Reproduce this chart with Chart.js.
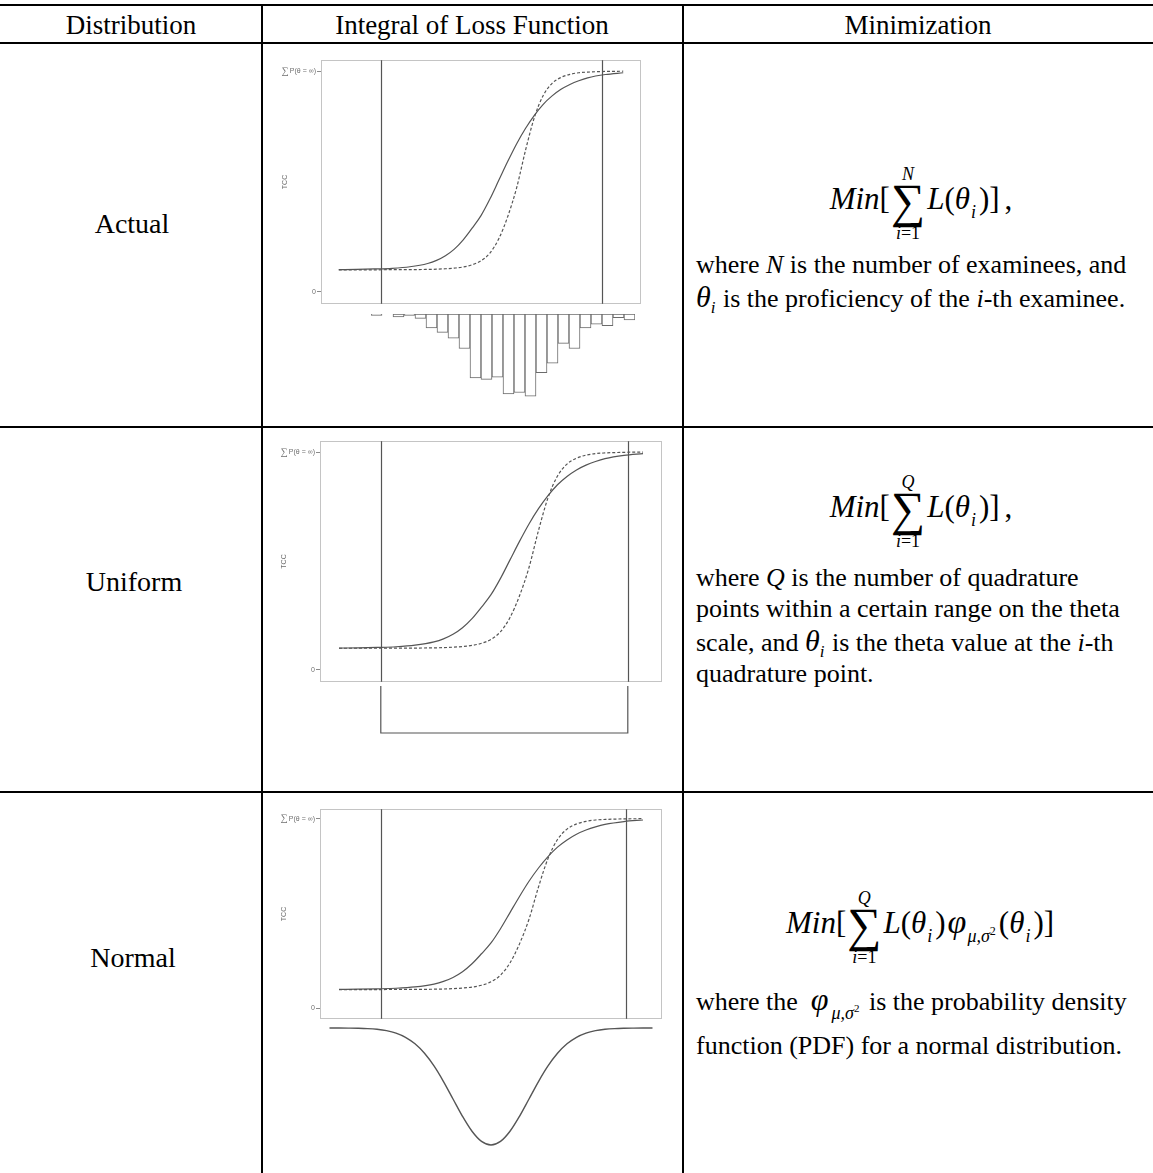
<!DOCTYPE html>
<html>
<head>
<meta charset="utf-8">
<script src="https://cdn.jsdelivr.net/npm/chart.js@4.4.1/dist/chart.umd.min.js"></script>
<style>
  html, body { margin: 0; padding: 0; background: #fff; }
  #page { position: relative; width: 1153px; height: 1173px; overflow: hidden;
          font-family: 'Liberation Serif', 'Times New Roman', serif; color: #000; }
  .hl { position: absolute; left: 0; width: 1153px; height: 2px; background: #000; }
  .vl { position: absolute; top: 4px; width: 2px; height: 1169px; background: #000; }
  .ctr { position: absolute; white-space: nowrap; line-height: 1; transform: translate(-50%, -50%); }
  .txt { position: absolute; left: 696px; white-space: nowrap; line-height: 1; font-size: 26px; transform: translateY(-50%); }
  .i { font-style: italic; }
  .th { font-style: italic; font-size: 30px; }
  .sb { font-style: italic; font-size: 17px; position: relative; top: 6px; margin-right: 1px; }
  .math { position: absolute; white-space: nowrap; line-height: 1; font-size: 31px; transform: translate(-50%, -50%); }
  .sum { position: relative; display: inline-block; font-size: 48px; line-height: 1; vertical-align: -0.16em; margin: 0 2px 0 1px; }
  .sum .up, .sum .lo { position: absolute; left: 50%; transform: translateX(-50%); font-size: 18px; line-height: 1; }
  .sum .up { top: -12px; font-style: italic; }
  .sum .lo { bottom: -17px; }
  .msub { font-style: italic; font-size: 18px; position: relative; top: 9px; margin: 0 3px 0 1px; }
  .phi { font-style: italic; font-size: 34px; margin-left: 2px; }
  canvas { position: absolute; }
</style>
</head>
<body>
<div id="page">
  <!-- table rules -->
  <div class="hl" style="top:4px"></div>
  <div class="hl" style="top:42px"></div>
  <div class="hl" style="top:426px"></div>
  <div class="hl" style="top:791px"></div>
  <div class="vl" style="left:261px"></div>
  <div class="vl" style="left:682px"></div>

  <!-- header -->
  <div class="ctr" style="left:131px;top:25px;font-size:27px">Distribution</div>
  <div class="ctr" style="left:472px;top:25px;font-size:27px">Integral of Loss Function</div>
  <div class="ctr" style="left:918px;top:25px;font-size:27px">Minimization</div>

  <!-- row labels -->
  <div class="ctr" style="left:132px;top:224px;font-size:28px">Actual</div>
  <div class="ctr" style="left:134px;top:582px;font-size:28px">Uniform</div>
  <div class="ctr" style="left:133px;top:958px;font-size:28px">Normal</div>

  <!-- row 1: actual distribution -->
  <div class="math" style="left:921px;top:201px">
    <span class="i">Min</span>[<span class="sum">∑<span class="up">N</span><span class="lo"><span class="i">i</span>=1</span></span><span class="i">L</span>(<span class="i">θ</span><span class="msub">i</span>)]<span style="margin-left:5px">,</span>
  </div>
  <div class="txt" style="top:265px">where <span class="i">N</span> is the number of examinees, and</div>
  <div class="txt" style="top:297px"><span class="th">θ</span><span class="sb">i</span> is the proficiency of the <span class="i">i</span>-th examinee.</div>

  <!-- row 2: uniform distribution -->
  <div class="math" style="left:921px;top:509px">
    <span class="i">Min</span>[<span class="sum">∑<span class="up">Q</span><span class="lo"><span class="i">i</span>=1</span></span><span class="i">L</span>(<span class="i">θ</span><span class="msub">i</span>)]<span style="margin-left:5px">,</span>
  </div>
  <div class="txt" style="top:578px">where <span class="i">Q</span> is the number of quadrature</div>
  <div class="txt" style="top:609px">points within a certain range on the theta</div>
  <div class="txt" style="top:641px">scale, and <span class="th">θ</span><span class="sb">i</span> is the theta value at the <span class="i">i</span>-th</div>
  <div class="txt" style="top:674px">quadrature point.</div>

  <!-- row 3: normal distribution -->
  <div class="math" style="left:920px;top:925px">
    <span class="i">Min</span>[<span class="sum">∑<span class="up">Q</span><span class="lo"><span class="i">i</span>=1</span></span><span class="i">L</span>(<span class="i">θ</span><span class="msub">i</span>)<span class="phi">φ</span><span class="msub">μ,σ<sup style="font-size:12px;font-style:normal">2</sup></span>(<span class="i">θ</span><span class="msub">i</span>)]
  </div>
  <div class="txt" style="top:999px">where the&nbsp; <span class="i" style="font-size:32px">φ</span><span class="msub" style="margin-left:3px">μ,σ<sup style="font-size:11px;font-style:normal">2</sup></span> is the probability density</div>
  <div class="txt" style="top:1046px">function (PDF) for a normal distribution.</div>

  <!-- charts -->
  <canvas id="tcc1" width="376" height="254" style="left:266px;top:55px"></canvas>
  <canvas id="hist1" width="266" height="92" style="left:370px;top:313px"></canvas>
  <canvas id="tcc2" width="398" height="251" style="left:265px;top:436px"></canvas>
  <canvas id="unif2" width="398" height="52" style="left:265px;top:685px"></canvas>
  <canvas id="tcc3" width="398" height="220" style="left:265px;top:804px"></canvas>
  <canvas id="norm3" width="398" height="128" style="left:265px;top:1023px"></canvas>
</div>

<script>
// Ability scale (theta) grid for the two test characteristic curves
const theta = [-4, -3.5, -3, -2.5, -2, -1.5, -1.25, -1, -0.75, -0.5, -0.25, 0, 0.25, 0.5, 0.75,
               1, 1.25, 1.5, 1.75, 2, 2.25, 2.5, 2.75, 3, 3.5, 4];
// TCC of the reference form (solid line), as a proportion of the maximum score
const tccSolid = [0.100, 0.101, 0.103, 0.106, 0.113, 0.128, 0.142, 0.163, 0.193, 0.235, 0.288, 0.345, 0.420, 0.505, 0.590,
                  0.670, 0.740, 0.800, 0.850, 0.888, 0.918, 0.940, 0.957, 0.970, 0.985, 0.993];
// TCC of the new form (dashed line)
const tccDashed = [0.099, 0.099, 0.099, 0.100, 0.100, 0.101, 0.102, 0.104, 0.107, 0.112, 0.122, 0.140, 0.175, 0.240, 0.340,
                   0.470, 0.640, 0.790, 0.890, 0.945, 0.972, 0.986, 0.993, 0.996, 0.999, 1.000];

// y-axis ticks of the TCC panels (the top one is the maximum expected score)
const tccTicks = [0, 1];
const tccTickLabels = ['0', 'P(θ = ∞)'];

// Theta range limits drawn as vertical lines in each panel
const actualRange = [-2.8, 3.4];
const uniformRange = [-2.9, 3.6];
const normalRange = [-2.9, 3.55];

// Observed examinee theta distribution (histogram)
const histBins = ['-3.0', '-2.7', '-2.4', '-2.1', '-1.8', '-1.5', '-1.2', '-0.9', '-0.6', '-0.3', '0.0', '0.3',
                  '0.6', '0.9', '1.2', '1.5', '1.8', '2.1', '2.4', '2.7', '3.0', '3.3', '3.6', '3.9'];
const histCounts = [2, 0, 4, 2, 6, 19, 25, 33, 47, 87, 89, 86, 109, 107, 112, 80, 67, 40, 47, 19, 14, 16, 5, 8];

// Uniform quadrature weight over the theta range
const uniformTheta = [uniformRange[0], uniformRange[0], uniformRange[1], uniformRange[1]];
const uniformDensity = [0, 1, 1, 0];

// Standard normal density
const normalTheta = [-4.25, -4, -3.75, -3.5, -3.25, -3, -2.75, -2.5, -2.25, -2, -1.75, -1.5, -1.25, -1, -0.75, -0.5, -0.25,
                     0, 0.25, 0.5, 0.75, 1, 1.25, 1.5, 1.75, 2, 2.25, 2.5, 2.75, 3, 3.25, 3.5, 3.75, 4, 4.25];
const normalDensity = [0.00005, 0.0001, 0.0004, 0.0009, 0.0020, 0.0044, 0.0091, 0.0175, 0.0317, 0.0540, 0.0863, 0.1295, 0.1826,
                       0.2420, 0.3011, 0.3521, 0.3867, 0.3989, 0.3867, 0.3521, 0.3011, 0.2420, 0.1826, 0.1295, 0.0863, 0.0540,
                       0.0317, 0.0175, 0.0091, 0.0044, 0.0020, 0.0009, 0.0004, 0.0001, 0.00005];

const LINE = '#555';
const AXIS_TEXT = '#6f6f6f';
const TICK_FONT = '7px "Liberation Sans", sans-serif';
const pts = (xs, ys) => xs.map((x, i) => ({ x, y: ys[i] }));

// Frame around the plot area, theta-range lines, the rotated TCC title and the summation sign
const framePlugin = {
  id: 'frame',
  beforeDatasetsDraw(chart, args, opts) {
    const { ctx, chartArea: a, scales } = chart;
    ctx.save();
    ctx.strokeStyle = '#c4c4c4';
    ctx.lineWidth = 1;
    ctx.strokeRect(Math.round(a.left) + 0.5, Math.round(a.top) + 0.5,
                   Math.round(a.right - a.left) - 1, Math.round(a.bottom - a.top) - 1);
    ctx.strokeStyle = LINE;
    ctx.lineWidth = 1.2;
    (opts.cuts || []).forEach(v => {
      const x = Math.round(scales.x.getPixelForValue(v)) + 0.5;
      ctx.beginPath();
      ctx.moveTo(x, a.top);
      ctx.lineTo(x, a.bottom);
      ctx.stroke();
    });
    ctx.restore();
  },
  afterDraw(chart, args, opts) {
    const { ctx, chartArea: a, scales } = chart;
    ctx.save();
    ctx.fillStyle = AXIS_TEXT;
    ctx.textBaseline = 'middle';
    // summation sign in front of the top tick label
    ctx.font = TICK_FONT;
    const w = ctx.measureText(tccTickLabels[1]).width;
    const yTop = scales.y.getPixelForValue(tccTicks[1]);
    ctx.font = '10px "Liberation Serif", serif';
    ctx.textAlign = 'right';
    ctx.fillText('∑', a.left - 4 - 1 - w - 1, yTop);
    // rotated axis title
    ctx.font = '7px "Liberation Sans", sans-serif';
    ctx.textAlign = 'center';
    ctx.translate(a.left - 36, (a.top + a.bottom) / 2);
    ctx.rotate(-Math.PI / 2);
    ctx.fillText(opts.title, 0, 0);
    ctx.restore();
  }
};

function tccChart(id, cuts) {
  return new Chart(document.getElementById(id), {
    type: 'line',
    data: {
      datasets: [
        { data: pts(theta, tccSolid), borderColor: LINE, borderWidth: 1.2, pointRadius: 0,
          cubicInterpolationMode: 'monotone', fill: false },
        { data: pts(theta, tccDashed), borderColor: LINE, borderWidth: 1.2, borderDash: [3, 2], pointRadius: 0,
          cubicInterpolationMode: 'monotone', fill: false }
      ]
    },
    options: {
      responsive: false, animation: false, events: [],
      layout: { padding: { top: 1, right: 1, bottom: 1, left: 0 } },
      plugins: { legend: { display: false }, tooltip: { enabled: false },
                 frame: { cuts, title: 'TCC' } },
      scales: {
        x: { type: 'linear', min: -4.5, max: 4.5, display: false },
        y: {
          type: 'linear', min: -0.055, max: 1.05,
          afterBuildTicks: s => { s.ticks = tccTicks.map(v => ({ value: v })); },
          afterFit: s => { s.width = 55; },
          ticks: { callback: v => tccTickLabels[tccTicks.indexOf(v)], color: AXIS_TEXT, padding: 1,
                   font: { family: 'Liberation Sans', size: 7 } },
          grid: { drawOnChartArea: false, drawTicks: true, tickLength: 4, color: '#8a8a8a' },
          border: { display: false }
        }
      }
    },
    plugins: [framePlugin]
  });
}

tccChart('tcc1', actualRange);
tccChart('tcc2', uniformRange);
tccChart('tcc3', normalRange);

// Histogram of examinee thetas, hanging below the actual-distribution panel
new Chart(document.getElementById('hist1'), {
  type: 'bar',
  data: { labels: histBins,
          datasets: [{ data: histCounts, backgroundColor: '#fff', borderColor: '#6b6b6b', borderWidth: 1,
                       borderSkipped: false, barPercentage: 1, categoryPercentage: 1 }] },
  options: {
    responsive: false, animation: false, events: [],
    layout: { padding: { top: 1, right: 1, bottom: 0, left: 1 } },
    plugins: { legend: { display: false }, tooltip: { enabled: false } },
    scales: { x: { display: false }, y: { display: false, reverse: true, min: 0, max: 124 } }
  }
});

// Density strips under the uniform and normal panels, on the same theta axis
function densityChart(id, xs, ys, yMin, yMax, width, smooth) {
  return new Chart(document.getElementById(id), {
    type: 'line',
    data: { datasets: [{ data: pts(xs, ys), borderColor: LINE, borderWidth: width, pointRadius: 0,
                         tension: 0, cubicInterpolationMode: smooth ? 'monotone' : 'default', fill: false }] },
    options: {
      responsive: false, animation: false, events: [],
      layout: { padding: { top: 1, right: 1, bottom: 1, left: 55 } },
      plugins: { legend: { display: false }, tooltip: { enabled: false } },
      scales: {
        x: { type: 'linear', min: -4.5, max: 4.5, display: false },
        y: { display: false, reverse: true, min: yMin, max: yMax }
      }
    }
  });
}

densityChart('unif2', uniformTheta, uniformDensity, 0, 1.064, 1.2, false);
densityChart('norm3', normalTheta, normalDensity, -0.0136, 0.416, 1.4, true);
</script>
</body>
</html>
